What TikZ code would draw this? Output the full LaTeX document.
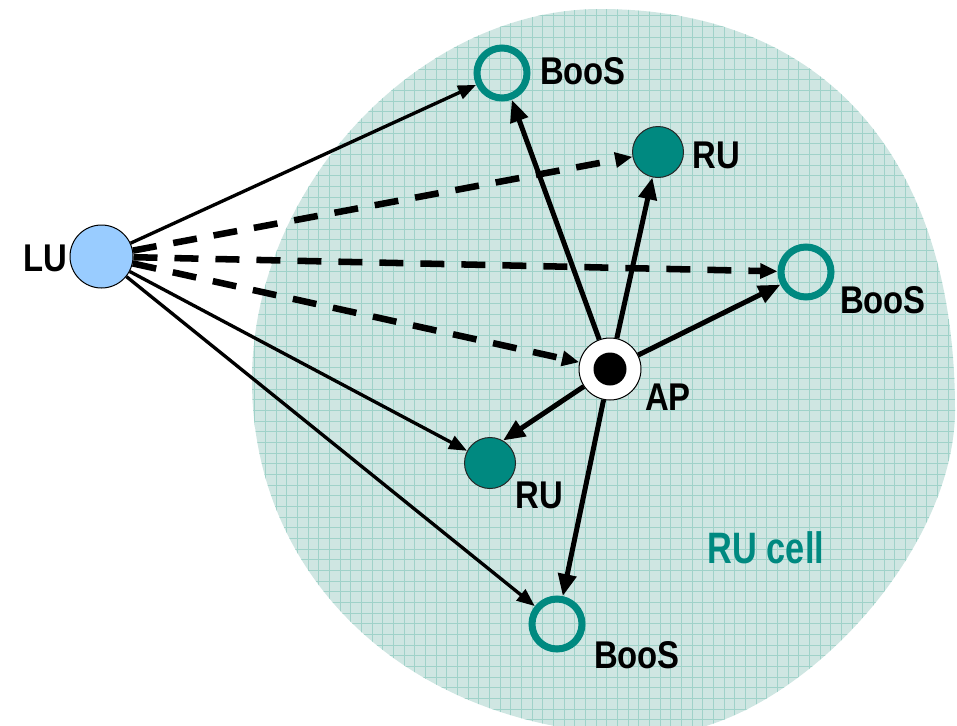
\documentclass[tikz,border=0pt]{standalone}
\usepackage{fontspec}
\setmainfont{Liberation Sans}
\usetikzlibrary{arrows.meta}
\definecolor{teal1}{RGB}{0,137,128}
\definecolor{cellfill}{RGB}{207,230,226}
\definecolor{cellgrid}{RGB}{160,210,201}
\definecolor{lublue}{RGB}{153,204,255}
\newcommand{\lblsq}[1]{\scalebox{0.85}[1]{#1}}
\newcommand{\cellsq}[1]{\scalebox{0.78}[1]{#1}}
\tikzset{
  lunode/.style={circle, draw=black, line width=0.75pt, fill=lublue, minimum size=47.25pt, inner sep=0pt},
  boosnode/.style={circle, draw=teal1, line width=5.25pt, fill=none, minimum size=37.5pt, inner sep=0pt},
  runode/.style={circle, draw=black!85, line width=0.75pt, fill=teal1, minimum size=38.25pt, inner sep=0pt},
  apnode/.style={circle, draw=black, line width=0.75pt, fill=white, minimum size=46.5pt, inner sep=0pt},
  apdot/.style={circle, fill=black, minimum size=24.75pt, inner sep=0pt},
  lbl/.style={font=\fontsize{29}{29}\selectfont\bfseries, inner sep=0pt, text=black},
  celllbl/.style={font=\fontsize{33}{33}\selectfont\bfseries, inner sep=0pt, text=teal1},
  thinarr/.style={draw=black, line width=2.5pt, -{Triangle[length=13.5pt,width=10.5pt]}},
  thickarr/.style={draw=black, line width=3.75pt, -{Triangle[length=16.5pt,width=13.5pt]}},
  dasharr/.style={draw=black, line width=4.9pt, dash pattern=on 18pt off 12.75pt, -{Triangle[length=13pt,width=11pt]}},
  gridln/.style={draw=cellgrid, line width=0.6pt}
}
\begin{document}
\begin{tikzpicture}[x=0.75pt,y=-0.75pt]
\useasboundingbox (0,0) rectangle (957,725);
\clip (0,0) rectangle (957,725);
% RU cell
\begin{scope}
\clip (600,9) .. controls (823.7,9) and (955,157.4) .. (955,410)
  .. controls (955,556.3) and (787.3,735) .. (650,735)
  .. controls (419.2,735) and (252,585.9) .. (252,380)
  .. controls (252,187.1) and (419,9) .. (600,9) -- cycle;
\fill[cellfill] (0,0) rectangle (957,740);
\foreach \i in {0,...,89} {\draw[gridln] ({9.3+10.667*\i},0) -- ({9.3+10.667*\i},740);}
\foreach \j in {0,...,69} {\draw[gridln] (0,{5+10.667*\j}) -- (957,{5+10.667*\j});}
\end{scope}
% nodes
\node[lunode] (lu) at (101.5,256.5) {};
\node[boosnode] (boosT) at (502,73) {};
\node[runode] (ruT) at (658,152) {};
\node[boosnode] (boosR) at (806,272) {};
\node[apnode] (ap) at (610,369) {};
\node[apdot] (apc) at (610,369) {};
\node[runode] (ruB) at (490,463) {};
\node[boosnode] (boosB) at (557,624) {};
% labels
\node[lbl] (tLU) at (45,258) {\lblsq{LU}};
\node[lbl] (tBT) at (583,71) {\lblsq{BooS}};
\node[lbl] (tRT) at (716,155) {\lblsq{RU}};
\node[lbl] (tBR) at (883,300) {\lblsq{BooS}};
\node[lbl] (tAP) at (668,397) {\lblsq{AP}};
\node[lbl] (tRB) at (539,495) {\lblsq{RU}};
\node[lbl] (tBB) at (637,655) {\lblsq{BooS}};
\node[celllbl] (tcell) at (766,548) {\cellsq{RU cell}};
% connectors from LU
\draw[thinarr] (lu) -- (boosT);
\draw[thinarr] (lu) -- (ruB);
\draw[thinarr] (lu) -- (boosB);
\draw[dasharr] (lu) -- (ruT);
\draw[dasharr] (lu) -- (boosR);
\draw[dasharr] (lu) -- (ap);
% connectors from AP
\draw[thickarr] (ap) -- (boosT);
\draw[thickarr] (ap) -- (ruT);
\draw[thickarr] (ap) -- (boosR);
\draw[thickarr] (ap) -- (ruB.60);
\draw[thickarr] (ap) -- (boosB);
\end{tikzpicture}
\end{document}
